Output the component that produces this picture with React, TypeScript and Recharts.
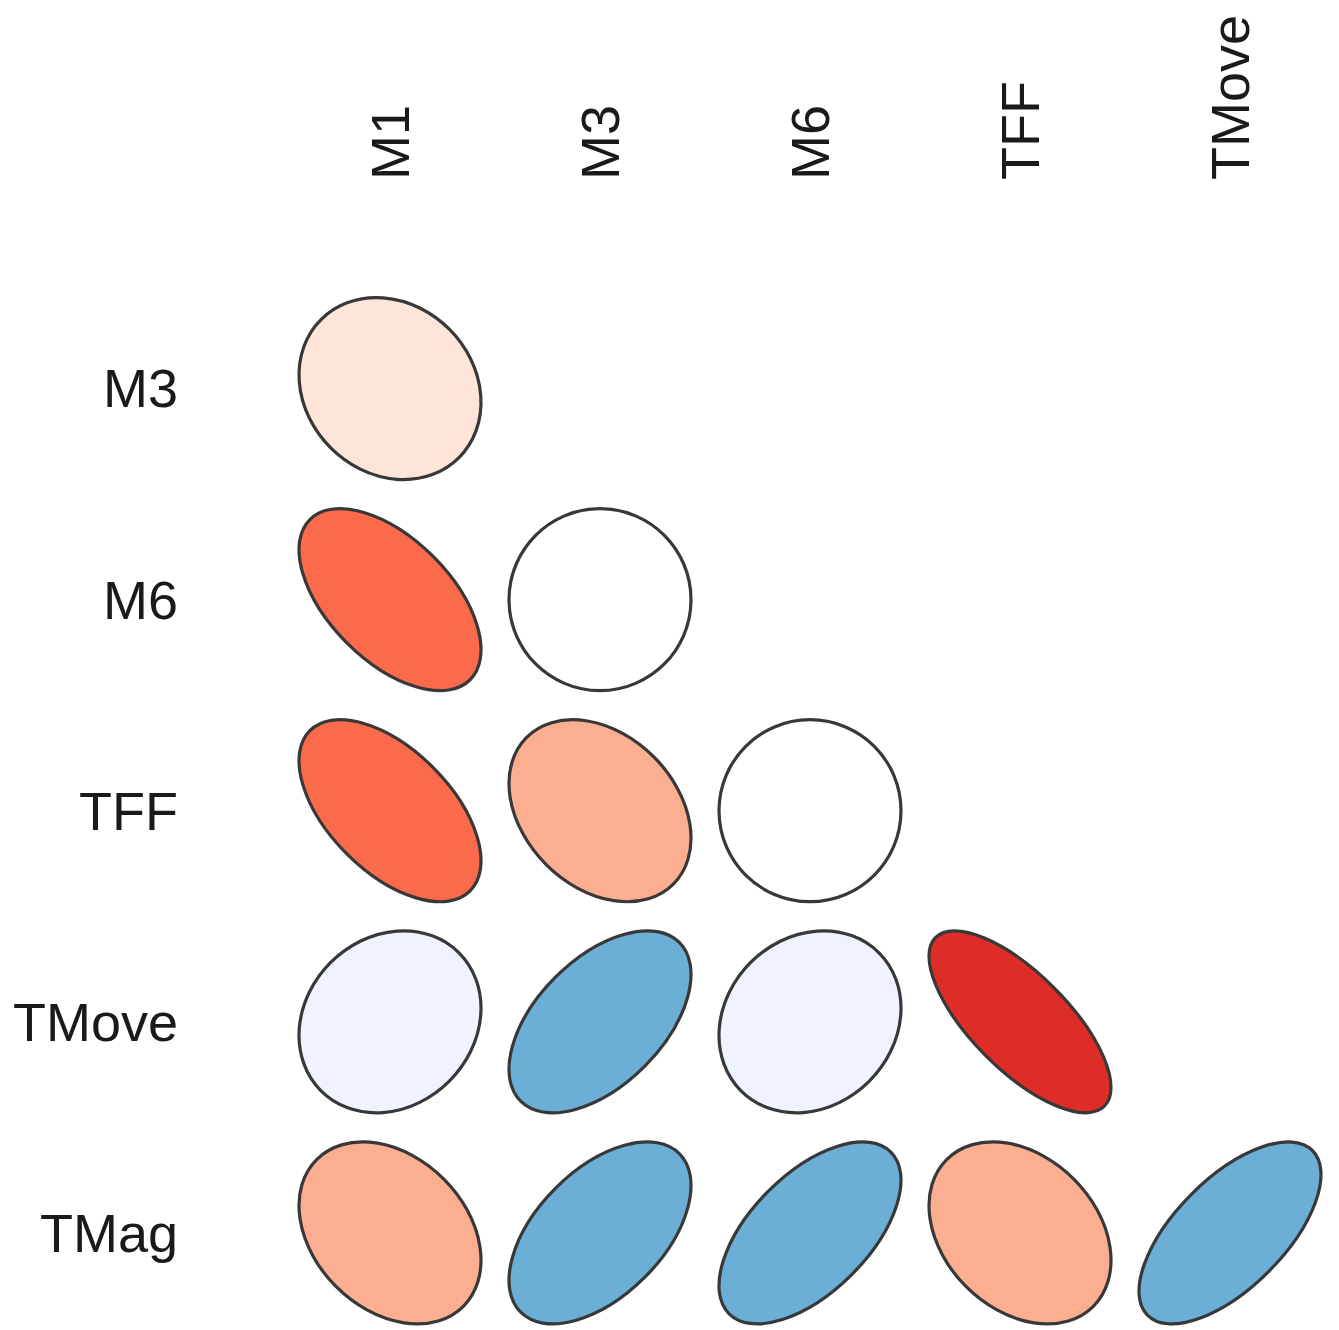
import { ScatterChart, Scatter, XAxis, YAxis, ZAxis } from 'recharts'

const COLUMNS = ['M1', 'M3', 'M6', 'TFF', 'TMove']
const ROWS = ['M3', 'M6', 'TFF', 'TMove', 'TMag']

// lower triangle of the correlation matrix, one row per ROWS entry
const CORR_M3 = [-0.15]
const CORR_M6 = [-0.55, 0.0]
const CORR_TFF = [-0.55, -0.3, 0.0]
const CORR_TMOVE = [0.15, 0.52, 0.15, -0.72]
const CORR_TMAG = [-0.3, 0.52, 0.58, -0.3, 0.64]
const CORR_ROWS = [CORR_M3, CORR_M6, CORR_TFF, CORR_TMOVE, CORR_TMAG]

const NEG_COLORS = ['#FEE5D9', '#FCAE91', '#FB6A4A', '#DE2D26']
const POS_COLORS = ['#EFF3FF', '#BDD7E7', '#6BAED6', '#3182BD']

const FONT = '"Liberation Sans", Arial, sans-serif'
const ELLIPSE_R = 91

const cells = CORR_ROWS.flatMap((vals, row) =>
  vals.map((r, col) => ({ col, row, r, z: 1 }))
)

function colorFor(r: number) {
  const a = Math.abs(r)
  if (a < 0.02) return '#FFFFFF'
  const idx = a < 0.2 ? 0 : a < 0.4 ? 1 : a < 0.7 ? 2 : 3
  return r < 0 ? NEG_COLORS[idx] : POS_COLORS[idx]
}

function EllipseShape(props: any) {
  const { cx, cy, width, payload } = props
  const R = width / 2
  const r = payload.r
  const rx = R * Math.sqrt(1 - r)
  const ry = R * Math.sqrt(1 + r)
  return (
    <ellipse
      cx={cx}
      cy={cy}
      rx={rx}
      ry={ry}
      transform={`rotate(45 ${cx} ${cy})`}
      fill={colorFor(r)}
      stroke="#383838"
      strokeWidth={3.2}
    />
  )
}

function ColTick(props: any) {
  const { x, y, payload } = props
  return (
    <text
      x={x}
      y={y}
      dy="0.35em"
      transform={`rotate(-90 ${x} ${y})`}
      textAnchor="start"
      fontFamily={FONT}
      fontSize={54}
      fill="#1a1a1a"
    >
      {COLUMNS[payload.value]}
    </text>
  )
}

function RowTick(props: any) {
  const { x, y, payload } = props
  return (
    <text x={x} y={y} dy="0.35em" textAnchor="end" fontFamily={FONT} fontSize={54} fill="#1a1a1a">
      {ROWS[payload.value]}
    </text>
  )
}

export default function App() {
  return (
    <div style={{ position: 'absolute', left: 0, top: 0, background: '#fff' }}>
      <ScatterChart width={1339} height={1330} margin={{ top: 183, right: 4, bottom: 0, left: 85 }}>
        <XAxis
          type="number"
          dataKey="col"
          orientation="top"
          domain={[-0.5, 4.5]}
          ticks={[0, 1, 2, 3, 4]}
          height={100}
          axisLine={false}
          tickLine={false}
          tickSize={0}
          tickMargin={103}
          tick={<ColTick />}
          interval={0}
        />
        <YAxis
          type="number"
          dataKey="row"
          domain={[-0.5, 4.46]}
          reversed
          allowDataOverflow
          ticks={[0, 1, 2, 3, 4]}
          width={200}
          axisLine={false}
          tickLine={false}
          tickSize={0}
          tickMargin={107}
          tick={<RowTick />}
          interval={0}
        />
        <ZAxis type="number" dataKey="z" range={[Math.PI * ELLIPSE_R * ELLIPSE_R, Math.PI * ELLIPSE_R * ELLIPSE_R]} />
        <Scatter data={cells} shape={<EllipseShape />} isAnimationActive={false} />
      </ScatterChart>
    </div>
  )
}
